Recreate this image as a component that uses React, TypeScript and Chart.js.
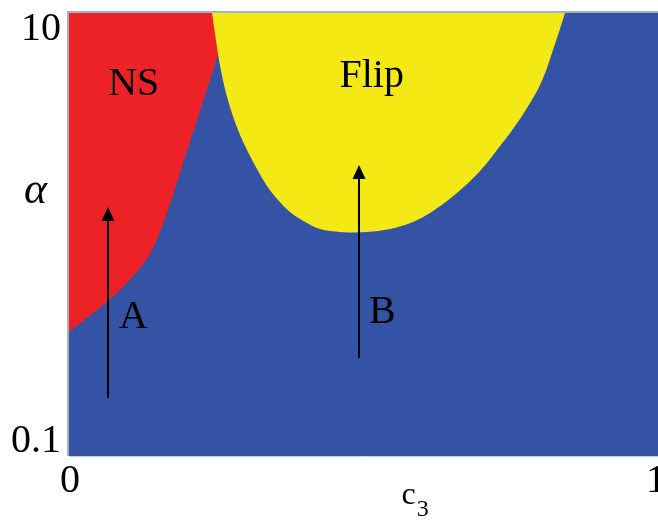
import React, { useEffect, useRef } from "react";
import { Chart, registerables } from "chart.js";

Chart.register(...registerables);

// Axis ranges and tick labels
const X_RANGE = [0, 1];
const Y_RANGE = [0.1, 10];
const X_TICK_LABELS = ["0", "1"];
const Y_TICK_LABELS = ["0.1", "10"];

// NS (red) region boundary: c3 vs alpha
const NS_C3 = [0, 0.0323, 0.0662, 0.0951, 0.1205, 0.1375, 0.1545, 0.1715, 0.1885, 0.2054, 0.2224, 0.2394, 0.2513, 0.275];
const NS_ALPHA = [0.363, 0.424, 0.501, 0.592, 0.706, 0.817, 1.026, 1.373, 1.895, 2.615, 3.61, 4.98, 6.27, 10];

// Flip (yellow) region boundary: c3 vs alpha
const FLIP_C3 = [0.2428, 0.2487, 0.2547, 0.2632, 0.2733, 0.2869, 0.3022, 0.3192, 0.3362, 0.3548, 0.3752, 0.4007, 0.4261, 0.4601, 0.4856, 0.5059, 0.545, 0.584, 0.6129, 0.6418, 0.6723, 0.6978, 0.7267, 0.7538, 0.7776, 0.7997, 0.8115, 0.8217, 0.8319, 0.8421];
const FLIP_ALPHA = [10, 7.79, 6.13, 4.73, 3.76, 2.96, 2.41, 1.976, 1.656, 1.432, 1.264, 1.139, 1.059, 1.026, 1.021, 1.026, 1.059, 1.139, 1.25, 1.416, 1.656, 1.935, 2.41, 2.995, 3.725, 4.73, 5.645, 6.81, 8.21, 10];

// Arrows A and B: [c3, alpha start, alpha end]
const ARROW_NAMES = ["A", "B"];
const ARROW_C3 = [0.0662, 0.4924];
const ARROW_FROM = [0.183, 0.277];
const ARROW_TO = [1.33, 2.06];
const ARROW_LABEL_C3 = [0.0866, 0.511];
const ARROW_LABEL_ALPHA = [0.378, 0.398];

// Region labels
const REGION_NAMES = ["NS", "Flip"];
const REGION_C3 = [0.11, 0.514];
const REGION_ALPHA = [4.26, 4.63];

const BLUE = "#3453a5";
const RED = "#ec2227";
const YELLOW = "#f3e914";
const SERIF = '"Liberation Serif", "DejaVu Serif", serif';

const zip = (xs: number[], ys: number[]) => xs.map((x, i) => ({ x, y: ys[i] }));

export default function App() {
  const ref = useRef<HTMLCanvasElement | null>(null);

  useEffect(() => {
    document.body.style.margin = "0";
    const canvas = ref.current;
    if (!canvas) return;

    const overlay = {
      id: "overlay",
      afterDatasetsDraw(chart: any) {
        const ctx = chart.ctx;
        const xs = chart.scales.x;
        const ys = chart.scales.y;
        const a = chart.chartArea;
        ctx.save();
        // frame
        ctx.strokeStyle = "#8e98aa";
        ctx.lineWidth = 1.5;
        ctx.beginPath();
        ctx.moveTo(a.left - 1, a.bottom);
        ctx.lineTo(a.left - 1, a.top - 1);
        ctx.lineTo(a.right, a.top - 1);
        ctx.stroke();
        ctx.strokeStyle = "#c8cfdc";
        ctx.lineWidth = 1;
        ctx.beginPath();
        ctx.moveTo(a.left, a.bottom + 0.5);
        ctx.lineTo(a.right, a.bottom + 0.5);
        ctx.stroke();

        // arrows
        ctx.strokeStyle = "#000";
        ctx.fillStyle = "#000";
        ctx.lineWidth = 2;
        ARROW_C3.forEach((c, i) => {
          const px = xs.getPixelForValue(c);
          const y0 = ys.getPixelForValue(ARROW_FROM[i]);
          const y1 = ys.getPixelForValue(ARROW_TO[i]);
          ctx.beginPath();
          ctx.moveTo(px, y0);
          ctx.lineTo(px, y1 + 12);
          ctx.stroke();
          ctx.beginPath();
          ctx.moveTo(px, y1);
          ctx.lineTo(px - 6.5, y1 + 14);
          ctx.lineTo(px + 6.5, y1 + 14);
          ctx.closePath();
          ctx.fill();
        });

        ctx.fillStyle = "#000";
        ctx.textBaseline = "alphabetic";
        ctx.font = `40px ${SERIF}`;
        // arrow labels
        ctx.textAlign = "left";
        ARROW_NAMES.forEach((n, i) => {
          ctx.fillText(n, xs.getPixelForValue(ARROW_LABEL_C3[i]) - 1, ys.getPixelForValue(ARROW_LABEL_ALPHA[i]));
        });
        // region labels
        ctx.textAlign = "center";
        REGION_NAMES.forEach((n, i) => {
          ctx.fillText(n, xs.getPixelForValue(REGION_C3[i]), ys.getPixelForValue(REGION_ALPHA[i]));
        });

        // y tick labels
        ctx.textAlign = "right";
        ctx.fillText(Y_TICK_LABELS[0], a.left - 8, ys.getPixelForValue(Y_RANGE[0]) - 4);
        ctx.fillText(Y_TICK_LABELS[1], a.left - 8, ys.getPixelForValue(Y_RANGE[1]) + 27);
        // x tick labels
        ctx.textAlign = "center";
        ctx.fillText(X_TICK_LABELS[0], xs.getPixelForValue(X_RANGE[0]) + 1, a.bottom + 36);
        ctx.fillText(X_TICK_LABELS[1], xs.getPixelForValue(X_RANGE[1]) - 2, a.bottom + 36);

        // axis titles
        ctx.textAlign = "left";
        ctx.font = `italic 44px ${SERIF}`;
        ctx.fillText("\u03b1", a.left - 45, ys.getPixelForValue(1) - 32);
        const cx = xs.getPixelForValue(0.5) + 38;
        ctx.font = `32px ${SERIF}`;
        ctx.fillText("c", cx, a.bottom + 48);
        const cw = ctx.measureText("c").width;
        ctx.font = `24px ${SERIF}`;
        ctx.fillText("3", cx + cw + 1, a.bottom + 60);
        ctx.restore();
      },
    };

    const chart = new Chart(canvas, {
      type: "line",
      data: {
        datasets: [
          {
            data: zip(X_RANGE, [Y_RANGE[1], Y_RANGE[1]]),
            fill: "start",
            backgroundColor: BLUE,
            borderWidth: 0,
            pointRadius: 0,
            order: 3,
          },
          {
            data: zip(NS_C3, NS_ALPHA),
            fill: "end",
            backgroundColor: RED,
            borderColor: RED,
            borderWidth: 0,
            pointRadius: 0,
            cubicInterpolationMode: "monotone",
            order: 2,
          },
          {
            data: zip(FLIP_C3, FLIP_ALPHA),
            fill: "end",
            backgroundColor: YELLOW,
            borderColor: YELLOW,
            borderWidth: 0,
            pointRadius: 0,
            cubicInterpolationMode: "monotone",
            order: 1,
          },
        ],
      },
      options: {
        animation: false,
        responsive: false,
        events: [],
        layout: { padding: { left: 69, top: 13, right: 0, bottom: 68 } },
        plugins: { legend: { display: false }, tooltip: { enabled: false } },
        scales: {
          x: { type: "linear", min: X_RANGE[0], max: X_RANGE[1], display: false },
          y: { type: "logarithmic", min: Y_RANGE[0], max: Y_RANGE[1], display: false },
        },
      },
      plugins: [overlay],
    });
    return () => chart.destroy();
  }, []);

  return <canvas ref={ref} width={658} height={524} style={{ display: "block" }} />;
}
